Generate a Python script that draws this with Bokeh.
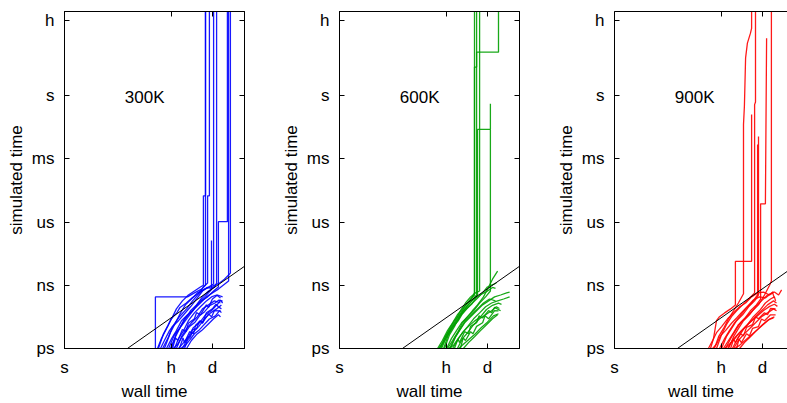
from bokeh.plotting import figure
from bokeh.layouts import row
from bokeh.models import Range1d, FixedTicker, LogAxis, Label, CustomJSTickFormatter
from bokeh.embed import file_html
from bokeh.resources import INLINE

# ---------------- data ----------------
x_tick_values = [1, 3600, 86400]
x_tick_labels = ["s", "h", "d"]
y_tick_values = [1e-12, 1e-9, 1e-6, 1e-3, 1, 3600]
y_tick_labels = ["ps", "ns", "us", "ms", "s", "h"]

# reference line (simulated time proportional to wall time)
reference_wall = [125, 1e6]
reference_sim = [1e-12, 8e-9]

temperatures = ["300K", "600K", "900K"]
colors = ["#0000ff", "#00a000", "#ff0000"]

# each run: (log10 wall time [s], log10 simulated time [s])
runs_300K = [
    [(3.03,-12),(3.03,-9.55),(4.10,-9.55),(4.33,-9.36),(4.57,-9.18),(4.70,-8.99),(4.70,4.5)],
    [(3.20,-12),(3.33,-11.62),(3.50,-11.15),(3.67,-10.82),(3.83,-10.49),(4.07,-10.12),(4.27,-9.74),(4.47,-9.41),(4.63,-9.08),(4.77,-8.89),(4.77,-4.75),(4.83,-4.75),(4.83,4.5)],
    [(3.27,-12),(3.47,-11.44),(3.60,-10.96),(3.80,-10.68),(4.00,-10.35),(4.20,-10.02),(4.40,-9.65),(4.60,-9.27),(4.80,-9.08),(4.97,-8.94),(4.97,4.5)],
    [(3.40,-12),(3.57,-11.53),(3.73,-11.15),(3.90,-10.68),(4.10,-10.40),(4.27,-10.21),(4.47,-9.84),(4.67,-9.55),(4.90,-9.20),(4.90,-6.87)],
    [(3.47,-12),(3.67,-11.34),(3.83,-11.06),(4.00,-10.59),(4.20,-10.31),(4.37,-10.02),(4.57,-9.74),(4.77,-9.55),(4.97,-9.27),(5.13,-9.08),(5.13,-5.98),(5.43,-5.98),(5.43,4.5)],
    [(3.60,-12),(3.70,-11.50),(3.78,-11.62),(3.93,-11.10),(4.05,-11.20),(4.13,-10.80),(4.33,-10.59),(4.40,-10.30),(4.53,-10.40),(4.73,-9.93),(4.80,-10.05),(4.93,-9.65),(5.10,-9.46),(5.27,-9.55)],
    [(3.73,-12),(3.90,-11.44),(4.07,-11.06),(4.23,-10.78),(4.43,-10.49),(4.60,-10.12),(4.80,-9.93),(5.00,-9.74),(5.20,-9.84)],
    [(3.83,-12),(3.95,-11.50),(4.00,-11.72),(4.17,-11.20),(4.30,-11.30),(4.37,-10.90),(4.53,-10.68),(4.60,-10.80),(4.73,-10.30),(4.93,-10.12),(5.05,-9.90),(5.13,-10.02),(5.23,-10.12)],
    [(3.93,-12),(4.10,-11.53),(4.27,-11.25),(4.47,-10.96),(4.67,-10.59),(4.87,-10.31),(5.07,-10.12),(5.23,-9.93)],
    [(3.10,-12),(3.23,-11.53),(3.40,-11.06),(3.57,-10.59),(3.73,-10.12),(3.93,-9.74),(4.13,-9.46),(4.33,-9.27),(4.53,-9.08),(4.63,-9.00),(4.63,-4.75),(4.70,-4.75),(4.70,4.5)],
    [(3.33,-12),(3.53,-11.25),(3.70,-10.78),(3.87,-10.31),(4.03,-9.93),(4.23,-9.65),(4.43,-9.36),(4.67,-9.18),(4.93,-9.04),(5.17,-8.89),(5.33,-8.71),(5.53,-8.42),(5.53,4.5)],
    [(4.00,-12),(4.10,-11.60),(4.20,-11.44),(4.27,-11.10),(4.40,-11.06),(4.50,-10.70),(4.60,-10.78),(4.80,-10.35),(4.90,-10.50),(5.00,-10.20),(5.20,-10.21)],
    [(3.53,-12),(3.70,-11.44),(3.87,-10.96),(4.03,-10.59),(4.20,-10.21),(4.40,-9.93),(4.60,-9.55),(4.80,-9.27),(5.00,-9.08),(5.07,-8.89),(5.07,4.5)],
    [(3.67,-12),(3.80,-11.53),(3.97,-11.15),(4.13,-10.68),(4.33,-10.31),(4.53,-10.02),(4.73,-9.74),(4.90,-9.55),(5.07,-9.46),(5.20,-9.60)],
    [(4.07,-12),(4.23,-11.62),(4.40,-11.34),(4.57,-11.15),(4.77,-10.87),(4.97,-10.59),(5.13,-10.40),(5.20,-10.50)],
    [(3.80,-12),(3.97,-11.72),(4.13,-11.44),(4.30,-11.00),(4.50,-10.78),(4.70,-10.40),(4.90,-10.20),(5.10,-9.90),(5.20,-9.70),(5.27,-9.84)],
    [(3.57,-12),(3.73,-11.25),(3.93,-10.87),(4.13,-10.49),(4.33,-10.12),(4.53,-9.84),(4.73,-9.55),(4.93,-9.36),(5.13,-9.18),(5.30,-8.99),(5.47,-8.80),(5.47,4.5)],
    [(3.13,-12),(3.30,-11.30),(3.45,-10.90),(3.55,-10.60),(3.75,-10.30),(3.85,-10.05),(4.05,-9.85),(4.25,-9.60),(4.40,-9.45),(4.55,-9.30),(4.75,-9.10),(4.90,-9.15),(5.05,-9.00)],
    [(3.63,-12),(3.77,-11.80),(3.90,-11.50),(4.05,-11.20),(4.17,-10.95),(4.35,-10.75),(4.50,-10.45),(4.67,-10.25),(4.85,-9.95),(5.00,-9.85),(5.15,-9.70),(5.27,-9.75)],
    [(3.87,-12),(4.03,-11.85),(4.17,-11.60),(4.33,-11.30),(4.47,-11.15),(4.63,-10.90),(4.83,-10.60),(5.03,-10.45),(5.17,-10.20),(5.23,-10.30)],
]

runs_600K = [
    [(3.27,-12),(3.43,-11.62),(3.60,-11.15),(3.77,-10.78),(3.93,-10.40),(4.10,-10.12),(4.27,-9.84),(4.43,-9.55),(4.50,-9.36),(4.50,4.5)],
    [(3.40,-12),(3.57,-11.44),(3.73,-11.06),(3.90,-10.68),(4.07,-10.31),(4.23,-10.02),(4.40,-9.74),(4.57,-9.46),(4.57,4.5)],
    [(3.33,-12),(3.50,-11.53),(3.67,-11.06),(3.83,-10.68),(4.00,-10.40),(4.17,-10.02),(4.33,-9.74),(4.50,-9.46),(4.50,1.36),(4.57,1.36),(4.57,2.07),(5.30,2.07),(5.30,4.5)],
    [(3.47,-12),(3.63,-11.34),(3.80,-10.96),(3.97,-10.59),(4.13,-10.21),(4.30,-9.93),(4.47,-9.65),(4.60,-9.46),(4.60,-1.60),(5.03,-1.60),(5.03,-0.38)],
    [(3.57,-12),(3.73,-11.53),(3.90,-11.15),(4.07,-10.78),(4.27,-10.49),(4.47,-10.21),(4.67,-9.84),(4.87,-9.55),(5.03,-9.27),(5.03,-1.60)],
    [(3.37,-12),(3.53,-11.44),(3.70,-11.06),(3.87,-10.68),(4.03,-10.21),(4.20,-9.84),(4.37,-9.55),(4.53,-9.36),(4.67,-9.27),(4.67,4.5)],
    [(3.60,-12),(3.77,-11.62),(3.93,-11.25),(4.10,-10.78),(4.27,-10.49),(4.43,-10.21),(4.60,-9.93),(4.80,-9.55),(4.97,-9.08),(5.10,-8.71),(5.27,-8.33)],
    [(3.67,-12),(3.83,-11.53),(4.00,-11.15),(4.17,-10.78),(4.37,-10.49),(4.57,-10.21),(4.77,-9.93),(4.97,-9.74),(5.17,-9.55),(5.37,-9.46),(5.57,-9.36),(5.67,-9.32)],
    [(3.77,-12),(3.93,-11.62),(4.10,-11.25),(4.27,-10.96),(4.47,-10.59),(4.67,-10.31),(4.87,-10.02),(5.07,-9.84),(5.27,-9.74),(5.47,-9.65),(5.67,-9.55)],
    [(3.83,-12),(3.95,-11.55),(4.00,-11.72),(4.17,-11.20),(4.30,-11.30),(4.37,-10.95),(4.57,-10.78),(4.65,-10.45),(4.77,-10.55),(4.97,-10.20),(5.07,-10.30),(5.17,-10.05),(5.37,-10.21)],
    [(3.93,-12),(4.10,-11.53),(4.27,-11.25),(4.47,-10.87),(4.67,-10.59),(4.87,-10.40),(5.07,-10.21),(5.23,-10.02),(5.33,-10.10)],
    [(4.03,-12),(4.12,-11.50),(4.20,-11.62),(4.37,-11.20),(4.45,-11.30),(4.57,-10.95),(4.77,-10.78),(4.85,-10.45),(4.97,-10.59),(5.17,-10.20),(5.30,-10.21)],
    [(4.13,-12),(4.30,-11.72),(4.50,-11.44),(4.70,-11.15),(4.90,-10.87),(5.10,-10.59),(5.27,-10.40)],
    [(3.50,-12),(3.67,-11.34),(3.83,-10.96),(4.00,-10.49),(4.17,-10.21),(4.37,-9.93),(4.57,-9.65),(4.77,-9.36),(4.93,-9.08),(5.07,-8.99),(5.23,-8.89)],
    [(3.70,-12),(3.87,-11.44),(4.03,-11.06),(4.20,-10.68),(4.40,-10.40),(4.60,-10.12),(4.80,-9.84),(5.00,-9.65),(5.20,-9.74)],
    [(3.30,-12),(3.45,-11.75),(3.60,-11.40),(3.75,-11.00),(3.95,-10.70),(4.10,-10.35),(4.25,-10.10),(4.40,-9.90),(4.55,-9.60),(4.70,-9.45),(4.90,-9.30),(5.10,-9.10),(5.20,-9.15)],
    [(3.63,-12),(3.80,-11.85),(3.97,-11.50),(4.13,-11.20),(4.30,-10.95),(4.50,-10.70),(4.70,-10.50),(4.90,-10.15),(5.10,-9.95),(5.30,-9.85),(5.40,-9.90)],
    [(3.97,-12),(4.13,-11.80),(4.33,-11.55),(4.53,-11.30),(4.73,-11.00),(4.93,-10.75),(5.13,-10.45),(5.30,-10.35)],
]

runs_900K = [
    [(3.20,-12),(3.30,-11.53),(3.40,-10.68),(3.50,-10.49),(3.67,-10.31),(3.87,-10.12),(4.03,-9.93),(4.03,-7.86),(4.57,-7.86),(4.57,-0.89)],
    [(3.33,-12),(3.47,-11.44),(3.63,-11.06),(3.80,-10.59),(3.97,-10.21),(4.13,-9.84),(4.30,-9.40),(4.30,-1.36),(4.33,-0.50),(4.37,1.80),(4.43,2.50),(4.53,2.96),(4.57,3.20),(4.57,4.5)],
    [(3.40,-12),(3.57,-11.34),(3.73,-10.87),(3.90,-10.49),(4.07,-10.21),(4.27,-9.93),(4.47,-9.65),(4.67,-9.36),(4.67,-0.42),(4.70,-0.30),(4.70,4.5)],
    [(3.50,-12),(3.67,-11.53),(3.83,-11.15),(4.00,-10.78),(4.17,-10.49),(4.37,-10.12),(4.57,-9.84),(4.77,-9.46),(4.77,-2.31)],
    [(3.57,-12),(3.73,-11.44),(3.90,-11.06),(4.07,-10.68),(4.27,-10.40),(4.47,-10.02),(4.67,-9.74),(4.80,-9.46),(4.80,-1.93)],
    [(3.63,-12),(3.80,-11.62),(3.97,-11.25),(4.13,-10.87),(4.33,-10.59),(4.53,-10.21),(4.73,-9.93),(4.87,-9.65),(4.87,-5.13),(5.03,-5.13),(5.07,2.73)],
    [(3.70,-12),(3.87,-11.53),(4.03,-11.15),(4.20,-10.78),(4.40,-10.49),(4.60,-10.21),(4.80,-9.93),(5.00,-9.46),(5.17,-9.00),(5.23,-8.80),(5.23,4.5)],
    [(3.13,-12),(3.27,-11.62),(3.40,-11.25),(3.57,-10.96),(3.77,-10.59),(3.97,-10.31),(4.17,-10.02),(4.37,-9.84),(4.57,-9.55),(4.77,-9.36),(4.97,-9.32),(5.17,-9.46),(5.33,-9.32),(5.47,-9.46),(5.57,-9.22)],
    [(3.77,-12),(3.93,-11.62),(4.10,-11.34),(4.30,-11.06),(4.50,-10.78),(4.70,-10.49),(4.90,-10.21),(5.10,-9.93),(5.30,-9.74),(5.40,-9.84)],
    [(3.87,-12),(3.97,-11.55),(4.03,-11.72),(4.20,-11.30),(4.30,-11.40),(4.40,-11.00),(4.60,-10.87),(4.70,-10.50),(4.80,-10.59),(5.00,-10.30),(5.10,-10.40),(5.20,-10.10),(5.37,-10.12)],
    [(3.97,-12),(4.13,-11.62),(4.30,-11.34),(4.50,-11.06),(4.70,-10.78),(4.90,-10.49),(5.10,-10.31),(5.30,-10.12),(5.40,-10.21)],
    [(4.07,-12),(4.15,-11.55),(4.23,-11.72),(4.40,-11.30),(4.50,-11.40),(4.60,-11.05),(4.80,-10.96),(4.90,-10.60),(5.00,-10.68),(5.20,-10.40),(5.37,-10.40)],
    [(4.17,-12),(4.33,-11.72),(4.53,-11.44),(4.73,-11.15),(4.93,-10.87),(5.13,-10.64),(5.30,-10.55)],
    [(3.93,-12),(4.10,-11.53),(4.27,-11.15),(4.43,-10.87),(4.63,-10.49),(4.83,-10.21),(5.03,-9.84),(5.20,-9.65),(5.33,-9.55),(5.37,-9.74)],
    [(3.80,-12),(3.97,-11.44),(4.13,-11.06),(4.30,-10.68),(4.50,-10.40),(4.70,-10.02),(4.90,-9.74),(5.10,-9.46),(5.27,-9.36),(5.33,-9.60)],
    [(3.27,-12),(3.40,-11.80),(3.53,-11.40),(3.70,-11.15),(3.90,-10.80),(4.07,-10.55),(4.23,-10.30),(4.43,-10.00),(4.63,-9.70),(4.83,-9.55),(5.03,-9.60),(5.20,-9.40),(5.30,-9.30)],
    [(3.67,-12),(3.83,-11.80),(4.00,-11.55),(4.17,-11.25),(4.37,-10.95),(4.57,-10.70),(4.77,-10.45),(4.97,-10.20),(5.17,-10.00),(5.33,-9.90),(5.43,-10.00)],
    [(4.00,-12),(4.17,-11.85),(4.37,-11.60),(4.57,-11.35),(4.77,-11.10),(4.97,-10.85),(5.17,-10.60),(5.33,-10.50)],
]

all_runs = [runs_300K, runs_600K, runs_900K]

# ---------------- plotting ----------------
FONT = "Liberation Sans"
FS = "17px"

label_code = """
for (let i = 0; i < vals.length; i++) {
  if (Math.abs(Math.log10(tick) - Math.log10(vals[i])) < 1e-6) return labs[i];
}
return "";
"""


def style_axis(ax, line=True):
    ax.major_tick_in = 5
    ax.major_tick_out = 0
    ax.minor_tick_line_color = None
    ax.major_tick_line_color = "black"
    ax.axis_line_color = "black" if line else None
    ax.major_label_text_font = FONT
    ax.major_label_text_font_size = FS
    ax.major_label_text_color = "black"
    ax.axis_label_text_font = FONT
    ax.axis_label_text_font_size = FS
    ax.axis_label_text_font_style = "normal"
    ax.axis_label_text_color = "black"


LEFT, TOP, BOTTOM, HEIGHT = 64, 11, 52, 403


def make_panel(runs, color, temp, width, right_border, last):
    frame_w = width - LEFT - right_border
    x_end = 10 ** (frame_w / 30.0)
    p = figure(width=width, height=HEIGHT, x_axis_type="log", y_axis_type="log",
               x_range=Range1d(1, x_end), y_range=Range1d(1e-12, 1e4),
               output_backend="svg", toolbar_location=None,
               min_border_left=LEFT, min_border_right=right_border,
               min_border_top=TOP, min_border_bottom=BOTTOM)
    p.grid.visible = False
    p.background_fill_color = "white"
    p.border_fill_color = "white"
    if last:
        p.outline_line_color = None
    else:
        p.outline_line_color = "black"
        p.outline_line_alpha = 1.0

    xt = FixedTicker(ticks=x_tick_values)
    yt = FixedTicker(ticks=y_tick_values)

    p.xaxis.ticker = xt
    p.yaxis.ticker = yt
    p.xaxis.formatter = CustomJSTickFormatter(args=dict(vals=x_tick_values, labs=x_tick_labels), code=label_code)
    p.yaxis.formatter = CustomJSTickFormatter(args=dict(vals=y_tick_values, labs=y_tick_labels), code=label_code)
    p.xaxis.axis_label = "wall time"
    p.yaxis.axis_label = "simulated time"
    for ax in p.xaxis:
        style_axis(ax)
        ax.major_label_standoff = 9
        ax.axis_label_standoff = 2
    for ax in p.yaxis:
        style_axis(ax)
        ax.major_label_standoff = 10
        ax.axis_label_standoff = 3

    # mirrored ticks (top, and right when the border is visible)
    top = LogAxis(ticker=xt, formatter=CustomJSTickFormatter(code="return '';"))
    style_axis(top)
    top.major_label_text_font_size = "0px"
    top.major_label_standoff = 0
    p.add_layout(top, "above")
    if not last:
        right = LogAxis(ticker=yt, formatter=CustomJSTickFormatter(code="return '';"))
        style_axis(right)
        right.major_label_text_font_size = "0px"
        right.major_label_standoff = 0
        p.add_layout(right, "right")

    xs = [[10 ** a for a, b in r] for r in runs]
    ys = [[10 ** b for a, b in r] for r in runs]
    p.multi_line(xs, ys, line_color=color, line_width=1.3, line_alpha=0.9)
    p.line(reference_wall, reference_sim, line_color="black", line_width=1)

    p.add_layout(Label(x=470, y=0.8, text=temp, text_align="center", text_baseline="middle",
                       text_font=FONT, text_font_size=FS, text_color="black"))
    return p


widths = [275, 275, 237]
rights = [31, 31, 0]
panels = [make_panel(all_runs[i], colors[i], temperatures[i], widths[i], rights[i], i == 2)
          for i in range(3)]

layout = row(*panels)
open("out.html", "w").write(file_html(layout, INLINE))
